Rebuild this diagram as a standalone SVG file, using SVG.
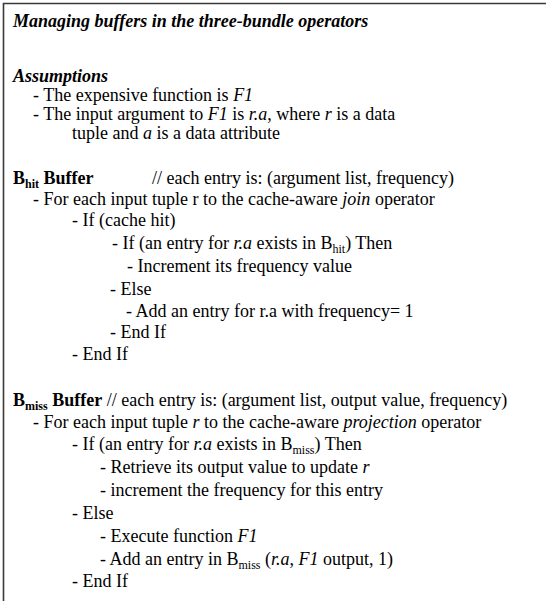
<svg xmlns="http://www.w3.org/2000/svg" width="546" height="601" viewBox="0 0 546 601">
<style>
text{font-family:"Liberation Serif","Times New Roman",serif;font-size:18px;fill:#000}
.h{font-weight:bold;font-style:italic}
.b{font-weight:bold}
.i{font-style:italic}
.s{font-size:12px}
.frame{fill:none;stroke:#3a3a3a;stroke-width:1.6}
</style>
<rect width="546" height="601" fill="#fff"/>
<path class="frame" d="M3.5,601 V3.5 H546"/>
<g id="title">
<text class="h" x="13" y="27">Managing buffers in the three-bundle operators</text>
</g>
<g id="assumptions">
<text class="h" x="13" y="82">Assumptions</text>
<text x="33" y="101">- The expensive function is <tspan class="i">F1</tspan></text>
<text x="33" y="120">- The input argument to <tspan class="i">F1</tspan> is <tspan class="i">r.a</tspan>, where <tspan class="i">r</tspan> is a data</text>
<text x="72" y="139">tuple and <tspan class="i">a</tspan> is a data attribute</text>
</g>
<g id="bhit">
<text x="13" y="184"><tspan class="b">B</tspan><tspan class="b s" dy="4">hit</tspan><tspan class="b" dy="-4"> Buffer</tspan></text>
<text x="152" y="184">// each entry is: (argument list, frequency)</text>
<text x="33" y="205">- For each input tuple r to the cache-aware <tspan class="i">join</tspan> operator</text>
<text x="72" y="226">- If (cache hit)</text>
<text x="112" y="249">- If (an entry for <tspan class="i">r.a</tspan> exists in B<tspan class="s" dy="4">hit</tspan><tspan dy="-4">) Then</tspan></text>
<text x="127" y="272">- Increment its frequency value</text>
<text x="110" y="295">- Else</text>
<text x="126" y="317">- Add an entry for r.a with frequency= 1</text>
<text x="110" y="338">- End If</text>
<text x="72" y="360">- End If</text>
</g>
<g id="bmiss">
<text x="13" y="406"><tspan class="b">B</tspan><tspan class="b s" dy="4">miss</tspan><tspan class="b" dy="-4"> Buffer</tspan> // each entry is: (argument list, output value, frequency)</text>
<text x="33" y="428">- For each input tuple <tspan class="i">r</tspan> to the cache-aware <tspan class="i">projection</tspan> operator</text>
<text x="72" y="450">- If (an entry for <tspan class="i">r.a</tspan> exists in B<tspan class="s" dy="4">miss</tspan><tspan dy="-4">) Then</tspan></text>
<text x="100" y="473">- Retrieve its output value to update <tspan class="i">r</tspan></text>
<text x="100" y="496">- increment the frequency for this entry</text>
<text x="72" y="519">- Else</text>
<text x="100" y="542">- Execute function <tspan class="i">F1</tspan></text>
<text x="100" y="565">- Add an entry in B<tspan class="s" dy="4">miss</tspan><tspan dy="-4"> (</tspan><tspan class="i">r.a</tspan>, <tspan class="i">F1</tspan> output, 1)</text>
<text x="72" y="587">- End If</text>
</g>
</svg>
